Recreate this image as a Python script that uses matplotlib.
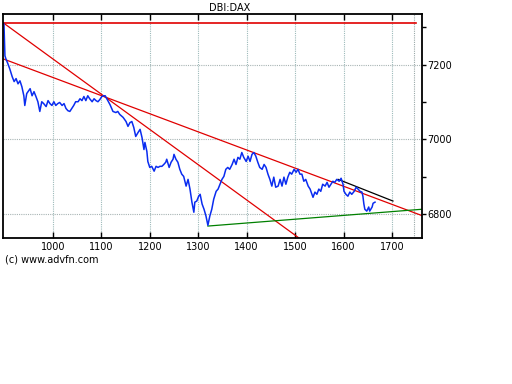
import numpy as np
import matplotlib
matplotlib.use('Agg')
import matplotlib.pyplot as plt
from matplotlib.ticker import MultipleLocator, FixedLocator

# price series (day index, price)
days = [899, 901, 903, 907, 911, 916, 920, 924, 928, 932, 936, 940, 942, 946, 953,
        957, 961, 965, 969, 973, 977, 981, 986, 990, 994, 998, 1002, 1006, 1010, 1014,
        1019, 1023, 1027, 1031, 1035, 1039, 1043, 1047, 1052, 1056, 1060, 1064, 1068,
        1072, 1076, 1081, 1085, 1089, 1093, 1097, 1101, 1105, 1108, 1118, 1124, 1130,
        1134, 1138, 1145, 1151, 1155, 1159, 1163, 1167, 1171, 1176, 1180, 1184, 1188,
        1190, 1194, 1196, 1200, 1204, 1209, 1213, 1217, 1221, 1225, 1229, 1233, 1235,
        1240, 1244, 1248, 1250, 1254, 1258, 1262, 1266, 1270, 1275, 1279, 1283, 1287,
        1291, 1293, 1297, 1301, 1304, 1308, 1312, 1316, 1320, 1324, 1328, 1332, 1337,
        1341, 1345, 1349, 1353, 1357, 1361, 1365, 1370, 1374, 1378, 1382, 1386, 1390,
        1394, 1399, 1403, 1407, 1411, 1415, 1419, 1423, 1427, 1432, 1436, 1440, 1444,
        1448, 1452, 1456, 1460, 1465, 1469, 1473, 1477, 1481, 1485, 1489, 1493, 1498,
        1502, 1506, 1510, 1514, 1518, 1522, 1527, 1531, 1537, 1541, 1545, 1549, 1553,
        1557, 1562, 1566, 1570, 1574, 1578, 1582, 1586, 1591, 1595, 1599, 1601, 1605,
        1609, 1613, 1617, 1622, 1626, 1630, 1634, 1638, 1640, 1642, 1644, 1648, 1652,
        1654, 1659, 1661, 1665]
price = [7309, 7224, 7216, 7203, 7189, 7168, 7155, 7163, 7149, 7157, 7141, 7117, 7091,
         7123, 7136, 7117, 7128, 7115, 7101, 7075, 7101, 7096, 7088, 7104, 7096, 7091,
         7101, 7091, 7096, 7099, 7091, 7096, 7083, 7077, 7075, 7083, 7091, 7101, 7101,
         7109, 7104, 7115, 7104, 7117, 7109, 7101, 7109, 7104, 7101, 7107, 7115, 7117,
         7117, 7093, 7075, 7072, 7075, 7067, 7059, 7048, 7035, 7045, 7048, 7032, 7008,
         7019, 7027, 7005, 6973, 6992, 6968, 6941, 6925, 6928, 6915, 6928, 6925, 6928,
         6928, 6933, 6939, 6947, 6925, 6939, 6947, 6960, 6947, 6939, 6920, 6907, 6901,
         6875, 6893, 6867, 6832, 6805, 6832, 6835, 6848, 6853, 6827, 6813, 6795, 6770,
         6795, 6813, 6840, 6861, 6867, 6880, 6893, 6901, 6920, 6925, 6920, 6933, 6947,
         6933, 6952, 6947, 6965, 6952, 6941, 6955, 6941, 6960, 6965, 6955, 6939, 6925,
         6920, 6933, 6925, 6907, 6893, 6875, 6899, 6872, 6875, 6893, 6875, 6899, 6880,
         6899, 6912, 6907, 6920, 6912, 6920, 6907, 6907, 6888, 6893, 6875, 6867, 6845,
         6859, 6853, 6867, 6861, 6880, 6875, 6885, 6872, 6880, 6888, 6885, 6893, 6888,
         6896, 6880, 6861, 6853, 6848, 6859, 6853, 6861, 6872, 6867, 6861, 6859, 6848,
         6827, 6813, 6808, 6819, 6808, 6819, 6829, 6832]

x_ticks = [1000, 1100, 1200, 1300, 1400, 1500, 1600, 1700]
y_ticks = [6800, 7000, 7200]

# trend lines (x0, x1), (y0, y1)
top_x, top_y = [899, 1750], [7311, 7311]
steep_x, steep_y = [899, 1508], [7311, 6736]
shallow_x, shallow_y = [897, 1762], [7216, 6796]
support_x, support_y = [1320, 1762], [6768, 6813]
short_x, short_y = [1589, 1702], [6893, 6835]

fig = plt.figure(figsize=(5.12, 3.84), dpi=100)
ax = fig.add_axes([3/512, 1 - 238/384, 419/512, 224/384])

ax.set_xlim(897, 1762)
ax.set_ylim(6736, 7336)

grid_kw = dict(ls=(0, (1, 1)), lw=0.8, zorder=0)
for gx in x_ticks:
    ax.axvline(gx, color='#9dbaba', **grid_kw)
ax.axvline(1745, color='#9aa8a8', **grid_kw)
for gy in y_ticks:
    ax.axhline(gy, color='#a8b4b4', **grid_kw)

ax.plot(top_x, top_y, color='#e00000', lw=1.2)
ax.plot(steep_x, steep_y, color='#e00000', lw=0.9)
ax.plot(shallow_x, shallow_y, color='#e00000', lw=0.9)
ax.plot(support_x, support_y, color='#008000', lw=0.9)
ax.plot(short_x, short_y, color='black', lw=0.9)
ax.plot(days, price, color='#0a2cf0', lw=1.1)

ax.yaxis.tick_right()
ax.yaxis.set_major_locator(FixedLocator(y_ticks))
ax.yaxis.set_minor_locator(MultipleLocator(100))
ax.xaxis.set_major_locator(FixedLocator(x_ticks))
ax.tick_params(axis='y', which='both', direction='out', length=3, width=1, labelsize=7, pad=1)
ax.tick_params(axis='x', which='major', direction='in', length=4, width=1, labelsize=7,
               top=True, pad=3)
for s in ax.spines.values():
    s.set_linewidth(1.3)

fig.text(230/512, 1 - 8/384, 'DBI:DAX', ha='center', va='center', fontsize=7)
fig.text(5/512, 1 - 259/384, '(c) www.advfn.com', ha='left', va='center', fontsize=7)

fig.savefig('out.png', dpi=100)
